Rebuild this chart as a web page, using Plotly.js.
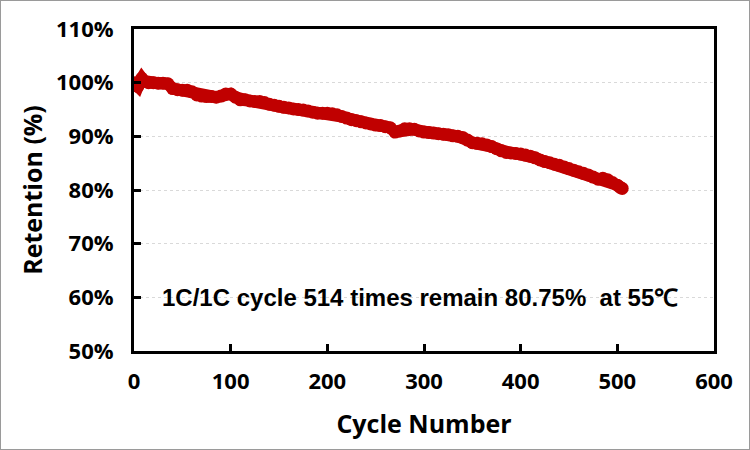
<!DOCTYPE html>
<html>
<head>
<meta charset="utf-8">
<script src="https://cdn.plot.ly/plotly-3.0.1.min.js"></script>
<style>
html,body{margin:0;padding:0;background:#fff;}
#frame{width:748px;height:448px;border:1px solid #9a9a9a;}
#chart{width:748px;height:448px;}
</style>
</head>
<body>
<div id="frame"><div id="chart"></div></div>
<script>
const cycles = [0,2,4,6,8,10,15,20,25,30,35,40,45,50,55,60,65,70,75,80,85,90,95,100,105,110,115,120,125,130,135,140,145,150,155,160,165,170,175,180,185,190,195,200,205,210,215,220,225,230,235,240,245,250,255,260,265,270,275,280,285,290,295,300,305,310,315,320,325,330,335,340,345,350,355,360,365,370,375,380,385,390,395,400,405,410,415,420,425,430,435,440,445,450,455,460,465,470,475,480,485,490,495,500,503,505];
const retention = [100.0,99.5,99.3,100.2,100.8,100.3,100.0,100.0,99.9,99.9,99.8,98.9,98.7,98.6,98.6,98.3,97.7,97.5,97.4,97.4,97.3,97.5,97.9,97.9,97.3,96.8,96.8,96.6,96.5,96.5,96.3,96.0,95.8,95.6,95.4,95.3,95.1,95.0,94.9,94.7,94.5,94.3,94.3,94.3,94.2,94.0,93.7,93.4,93.1,92.9,92.7,92.5,92.3,92.1,92.0,91.8,91.6,90.8,91.0,91.4,91.4,91.3,91.0,90.8,90.7,90.6,90.5,90.4,90.3,90.1,90.0,89.8,89.3,88.8,88.7,88.6,88.4,88.1,87.7,87.3,87.0,86.9,86.8,86.7,86.5,86.3,86.0,85.6,85.3,85.1,84.8,84.6,84.3,84.0,83.7,83.4,83.1,82.8,82.4,82.0,82.2,81.9,81.4,80.9,80.5,80.3];
const xTicks = [0,100,200,300,400,500,600];
const yTicks = [50,60,70,80,90,100,110];
const xTitle = 'Cycle Number';
const yTitle = 'Retention (%)';
const note = '1C/1C cycle 514 times remain 80.75%\u00a0 at 55\u2103';

const tickFont = {family:'Open Sans, DejaVu Sans, sans-serif', size:22, color:'#000', weight:'bold'};
const titleFont = {family:'Open Sans, DejaVu Sans, sans-serif', size:25, color:'#000', weight:'bold'};

Plotly.newPlot('chart', [{
  x: cycles, y: retention, type:'scatter', mode:'lines+markers',
  line:{color:'#C00000', width:12},
  marker:{color:'#C00000', size:13},
  hoverinfo:'skip'
}], {
  width:748, height:448,
  margin:{l:133, r:35, t:28, b:98},
  paper_bgcolor:'#fff', plot_bgcolor:'#fff',
  showlegend:false,
  xaxis:{
    range:[0,600], tickvals:xTicks, ticktext:xTicks.map(String),
    showline:true, linecolor:'#000', linewidth:3, mirror:true,
    ticks:'inside', ticklen:7, tickwidth:3, tickcolor:'#000',
    showgrid:false, zeroline:false,
    tickfont:tickFont, ticklabelstandoff:9,
    title:{text:xTitle, font:titleFont, standoff:22}
  },
  yaxis:{
    range:[50,110], tickvals:yTicks, ticktext:yTicks.map(v=>v+'%'),
    showline:true, linecolor:'#000', linewidth:3, mirror:true,
    ticks:'inside', ticklen:7, tickwidth:3, tickcolor:'#000',
    showgrid:true, gridcolor:'#d9d9d9', gridwidth:1, griddash:'dot',
    zeroline:false,
    tickfont:tickFont, ticklabelstandoff:13,
    title:{text:yTitle, font:titleFont, standoff:7}
  },
  annotations:[{
    x:296, y:60, xref:'x', yref:'y', text:note, showarrow:false,
    font:{family:'Liberation Sans, Arial, sans-serif', size:24, color:'#000', weight:'bold'},
    xanchor:'center', yanchor:'middle'
  }]
}, {displayModeBar:false, staticPlot:true});
</script>
</body>
</html>
